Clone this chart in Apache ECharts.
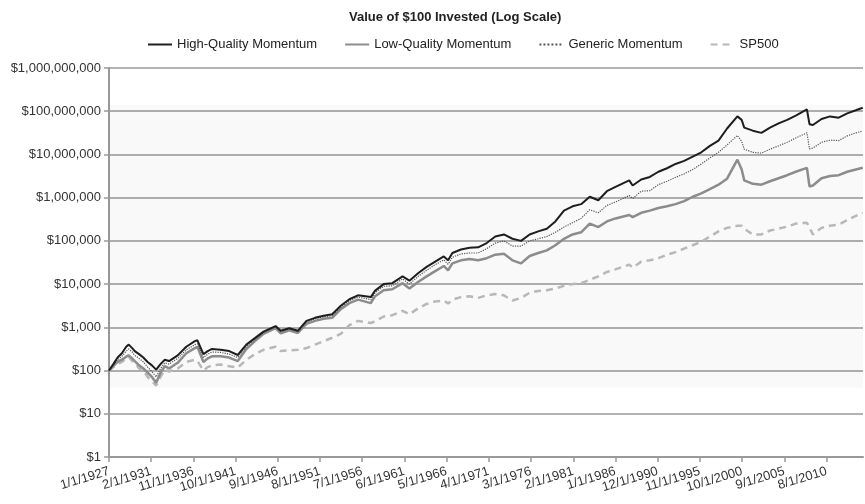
<!DOCTYPE html>
<html>
<head>
<meta charset="utf-8">
<script src="https://cdn.jsdelivr.net/npm/echarts@6/dist/echarts.min.js"></script>
<style>
html, body { margin: 0; padding: 0; background: #fff; }
#chart { width: 865px; height: 504px; }
</style>
</head>
<body>
<div id="chart"></div>
<script>
// readings (decimal years, dollars)
var years = [1927.0, 1927.5, 1928.0, 1928.5, 1929.0, 1929.3, 1929.7, 1930.0, 1930.5, 1931.0,
    1931.5, 1932.0, 1932.5, 1933.0, 1933.5, 1934, 1935, 1936, 1937, 1937.3,
    1938, 1938.5, 1939, 1940, 1941, 1942, 1943, 1944, 1945, 1946.4,
    1947, 1948, 1949, 1950, 1951, 1952, 1953, 1954, 1955, 1956,
    1957.5, 1958, 1959, 1960, 1961.2, 1962, 1963, 1964, 1965, 1966,
    1966.5, 1967, 1968, 1969, 1970, 1971, 1972, 1973, 1974, 1975,
    1976, 1977, 1978, 1979, 1980, 1981, 1982, 1983, 1984, 1985,
    1986, 1987.6, 1988, 1989, 1990, 1991, 1992, 1993, 1994, 1995,
    1996, 1997, 1998, 1999, 2000.2, 2000.7, 2001, 2002, 2003, 2004,
    2005, 2006, 2007, 2008.3, 2008.6, 2009, 2010, 2011, 2012, 2013,
    2014, 2014.8];

var highQuality = [100, 141, 200, 251, 355, 398, 331, 282, 240, 200,
    158, 132, 105, 141, 178, 166, 224, 355, 479, 501,
    240, 282, 316, 302, 282, 229, 398, 562, 794, 1070,
    832, 955, 832, 1410, 1660, 1860, 2000, 3160, 4470, 5500,
    5010, 7080, 10000, 10500, 15100, 12000, 17800, 25100, 33100, 43700,
    35500, 52500, 63100, 69200, 70800, 89100, 126000, 141000, 112000, 100000,
    141000, 166000, 191000, 282000, 501000, 631000, 708000, 1050000, 871000, 1410000,
    1780000, 2510000, 1910000, 2630000, 3020000, 3980000, 4790000, 6030000, 7080000, 8910000,
    11200000, 15800000, 20900000, 39800000, 75900000, 63100000, 41700000, 35500000, 31600000, 41700000,
    52500000, 63100000, 79400000, 110000000, 50100000, 47900000, 66100000, 75900000, 70800000, 89100000,
    105000000, 120000000];

var lowQuality = [100, 126, 158, 178, 209, 224, 191, 166, 132, 112,
    89, 71, 52, 89, 126, 112, 151, 251, 331, 355,
    158, 191, 214, 214, 200, 166, 316, 479, 708, 955,
    724, 851, 741, 1200, 1410, 1580, 1660, 2630, 3630, 4370,
    3630, 5250, 7240, 7590, 10500, 7940, 11200, 15100, 20000, 26300,
    20900, 30200, 35500, 38000, 35500, 39800, 47900, 50100, 35500, 30200,
    44700, 52500, 60300, 79400, 112000, 141000, 158000, 251000, 209000, 282000,
    331000, 398000, 355000, 447000, 501000, 575000, 631000, 708000, 832000, 1050000,
    1260000, 1580000, 2000000, 2750000, 7590000, 4470000, 2510000, 2090000, 2000000, 2400000,
    2820000, 3310000, 3980000, 4900000, 1820000, 1910000, 2820000, 3160000, 3310000, 3980000,
    4470000, 4900000];

var generic = [100, 132, 178, 214, 282, 316, 269, 224, 191, 158,
    120, 95, 71, 112, 151, 141, 191, 302, 398, 417,
    200, 240, 269, 263, 240, 200, 363, 525, 759, 1020,
    794, 912, 794, 1320, 1580, 1740, 1860, 2880, 4170, 5010,
    4370, 6310, 8910, 9120, 13200, 10000, 15100, 20900, 28200, 36300,
    28800, 41700, 50100, 52500, 52500, 66100, 89100, 100000, 75900, 75900,
    100000, 112000, 126000, 158000, 209000, 263000, 331000, 525000, 447000, 661000,
    794000, 1120000, 955000, 1410000, 1450000, 2000000, 2400000, 2950000, 3550000, 4470000,
    6030000, 8320000, 11200000, 16600000, 27500000, 20000000, 13200000, 11200000, 10700000, 13200000,
    15800000, 19100000, 24000000, 31600000, 13500000, 14100000, 19100000, 21400000, 20900000, 26900000,
    31600000, 34700000];

var sp500 = [100, 120, 141, 158, 191, 209, 166, 151, 112, 100,
    71, 56, 45, 71, 105, 95, 112, 158, 178, 166,
    100, 120, 132, 138, 126, 117, 178, 240, 302, 355,
    282, 295, 302, 331, 398, 479, 575, 708, 1120, 1410,
    1260, 1380, 1780, 1910, 2400, 2000, 2750, 3470, 3980, 4170,
    3550, 4370, 5010, 5250, 4790, 5500, 5890, 5500, 4170, 4790,
    6310, 6920, 7240, 7940, 9120, 10000, 10500, 12600, 15100, 19100,
    21900, 28200, 24000, 33100, 35500, 39800, 47900, 55000, 66100, 79400,
    95500, 126000, 166000, 200000, 224000, 224000, 191000, 141000, 141000, 174000,
    191000, 214000, 251000, 263000, 200000, 141000, 200000, 224000, 240000, 302000,
    380000, 447000];

var xTickLabels = ['1/1/1927', '2/1/1931', '11/1/1936', '10/1/1941', '9/1/1946', '8/1/1951',
    '7/1/1956', '6/1/1961', '5/1/1966', '4/1/1971', '3/1/1976', '2/1/1981', '1/1/1986',
    '12/1/1990', '11/1/1995', '10/1/2000', '9/1/2005', '8/1/2010'];

var tickStep = 59;    // months between labels
var lastMonth = 1054; // months from 1/1927 to the end of the data
var tickValues = xTickLabels.map(function (t, i) { return i * tickStep; });
// blank neighbours next to the first and last label, so the min/max overlap check drops those instead
var lastTick = tickValues[tickValues.length - 1];
var labelValues = [0, 1].concat(tickValues.slice(1, -1), [lastTick - 1, lastTick]);

function toPoints(vals) {
    return years.map(function (y, i) { return [(y - 1927) * 12, vals[i]]; });
}

var fontFamily = '"Liberation Sans", Arial, sans-serif';

var chartDom = document.getElementById('chart');
var myChart = echarts.init(chartDom, null, { renderer: 'canvas' });

var option = {
    backgroundColor: '#fff',
    animation: false,
    title: {
        text: 'Value of $100 Invested (Log Scale)',
        left: 344,
        top: 6,
        textStyle: { fontSize: 13, fontWeight: 'bold', color: '#222', fontFamily: fontFamily }
    },
    legend: {
        top: 33,
        left: 142,
        itemWidth: 24,
        itemHeight: 10,
        itemGap: 27,
        itemStyle: { opacity: 0 },
        data: ['High-Quality Momentum', 'Low-Quality Momentum', 'Generic Momentum', 'SP500'],
        textStyle: { fontSize: 13, color: '#222', fontFamily: fontFamily }
    },
    grid: {
        left: 109,
        right: 2,
        top: 68,
        bottom: 47,
        outerBoundsMode: 'none'
    },
    xAxis: {
        type: 'value',
        min: 0,
        max: lastMonth,
        splitLine: { show: false },
        axisLine: { lineStyle: { color: '#999', width: 2 } },
        axisTick: { customValues: labelValues, length: 5, lineStyle: { color: '#999', width: 1.5 } },
        axisLabel: {
            customValues: labelValues,
            rotate: 17,
            margin: 14,
            fontSize: 13,
            color: '#333',
            fontFamily: fontFamily,
            showMinLabel: true,
            showMaxLabel: true,
            hideOverlap: false,
            formatter: function (v) {
                if (v % tickStep !== 0) return ' ';
                return xTickLabels[v / tickStep] || ' ';
            }
        }
    },
    yAxis: {
        type: 'log',
        logBase: 10,
        min: 1,
        max: 1000000000,
        interval: 1,
        axisLine: { show: true, lineStyle: { color: '#999', width: 2 } },
        axisTick: { show: true, length: 5, lineStyle: { color: '#999', width: 1.5 } },
        splitLine: { show: true, lineStyle: { color: '#999', width: 1.5 } },
        axisLabel: {
            fontSize: 13,
            color: '#333',
            fontFamily: fontFamily,
            showMinLabel: true,
            showMaxLabel: true,
            formatter: function (v) { return '$' + Math.round(v).toLocaleString('en-US'); }
        }
    },
    series: [
        {
            name: 'SP500',
            type: 'line',
            symbol: 'none',
            data: toPoints(sp500),
            lineStyle: { color: '#b8b8b8', width: 2.5, type: [7, 5] },
            itemStyle: { color: '#b8b8b8' },
            markArea: {
                silent: true,
                itemStyle: { color: 'rgba(0,0,0,0.025)' },
                data: [[{ yAxis: 140000000 }, { yAxis: 40 }]]
            }
        },
        {
            name: 'Low-Quality Momentum',
            type: 'line',
            symbol: 'none',
            data: toPoints(lowQuality),
            lineStyle: { color: '#8c8c8c', width: 2.5 },
            itemStyle: { color: '#8c8c8c' }
        },
        {
            name: 'Generic Momentum',
            type: 'line',
            symbol: 'none',
            data: toPoints(generic),
            lineStyle: { color: '#555', width: 1.2, type: 'dotted' },
            itemStyle: { color: '#555' }
        },
        {
            name: 'High-Quality Momentum',
            type: 'line',
            symbol: 'none',
            data: toPoints(highQuality),
            lineStyle: { color: '#1e1e1e', width: 2 },
            itemStyle: { color: '#1e1e1e' }
        }
    ]
};

myChart.setOption(option);
window.addEventListener('resize', myChart.resize);
</script>
</body>
</html>
